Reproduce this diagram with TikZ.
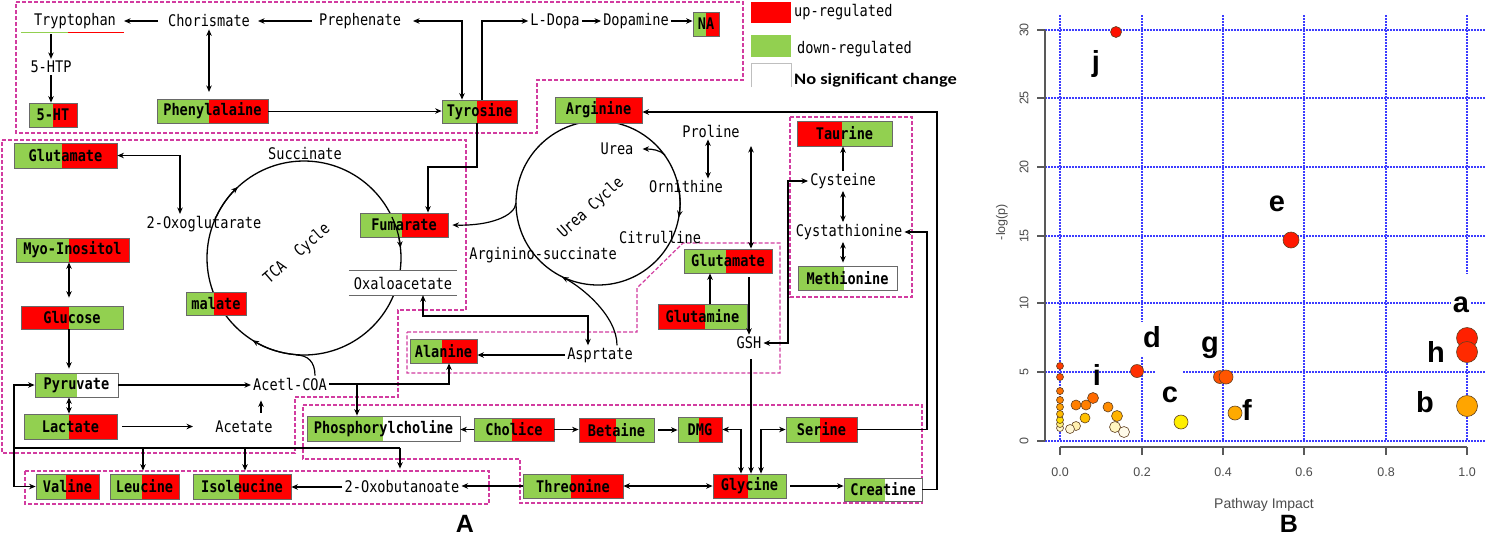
\documentclass[tikz,border=0pt]{standalone}
\usepackage{fontspec}
\usetikzlibrary{arrows.meta,calc}
\newfontfamily\monof{DejaVu Sans Mono}[FakeStretch=0.85]
\newfontfamily\sansf{Liberation Sans}
\newfontfamily\calf{Carlito}[FakeStretch=1.15]
\newcommand\mymono{\monof\fontsize{16}{18}\selectfont}
\newcommand\mymonob{\monof\bfseries\fontsize{16}{18}\selectfont}
\definecolor{gr}{RGB}{146,208,80}
\definecolor{rd}{RGB}{255,0,0}
\definecolor{mag}{RGB}{210,60,160}
\definecolor{bgray}{RGB}{105,105,105}
\definecolor{gridblue}{RGB}{60,60,255}
\tikzset{
  arr/.style={-{Stealth[length=6.5pt,width=5.5pt]}, line width=1.2pt},
  dbl/.style={{Stealth[length=6.5pt,width=5.5pt]}-{Stealth[length=6.5pt,width=5.5pt]}, line width=1.2pt},
  ln/.style={line width=1.2pt},
  tx/.style={inner sep=2pt, font=\mymono},
  boxlbl/.style={draw=bgray, line width=0.8pt, inner sep=0pt, font=\mymonob},
  region/.style={draw=mag, line width=1.2pt, dash pattern=on 4pt off 2pt},
  cyc/.style={line width=1.3pt},
  gridln/.style={gridblue, line width=1.1pt, dash pattern=on 1.5pt off 1.5pt},
  axisln/.style={draw=gray!70!black, line width=1.2pt},
  ticklbl/.style={font=\sansf\fontsize{12.5}{14}\selectfont, text=gray!60!black, inner sep=0pt},
  pt/.style={circle, draw=brown!50!black, line width=0.6pt, inner sep=0pt},
  ltr/.style={font=\sansf\bfseries\fontsize{29}{30}\selectfont, inner sep=1pt},
}
% name, x1, y1, x2, y2, split x, left colour, right colour, text
\newcommand\metab[9]{%
  \fill[#7] (#2,#3) rectangle (#6,#5);
  \fill[#8] (#6,#3) rectangle (#4,#5);
  \node[boxlbl, minimum width={(#4-#2)*1pt}, minimum height={(#5-#3)*1pt}] (#1) at ({(#2+#4)/2},{(#3+#5)/2}) {#9};}
\newcommand\ppt[5]{\definecolor{tmpc}{HTML}{#5}\node[pt, minimum size=#4pt, fill=tmpc] (#1) at (#2,#3) {};}
\begin{document}
\begin{tikzpicture}[x=1pt,y=-1pt]
\useasboundingbox (0,0) rectangle (1485,542);
\fill[white] (0,0) rectangle (1485,542);

% ---------- dashed regions ----------
\draw[region] (16,2) -- (743,2) -- (743,80) -- (537,80) -- (537,133) -- (16,133) -- cycle;
\draw[region] (2,140) -- (466,140) -- (466,310) -- (398,310) -- (398,397) -- (295,397) -- (295,453) -- (2,453) -- cycle;
\draw[region] (407,332) -- (637,332) -- (637,288) -- (683,243) -- (780,243) -- (780,373) -- (407,373) -- cycle;
\draw[region] (790,117) rectangle (912,297);
\draw[region] (25,471) rectangle (489,504);
\draw[region] (303,405) -- (922,405) -- (922,503) -- (520,503) -- (520,459) -- (303,459) -- cycle;

% ---------- cycles ----------
\coordinate (tc) at (304,258);
\draw[cyc] (tc) circle[radius=97pt];
\coordinate (uc) at (598,203);
\draw[cyc] (uc) circle[radius=82pt];

% ---------- boxes ----------
\metab{ht5}{29}{103}{77}{127}{53}{gr}{rd}{5-HT}
\metab{phe}{157}{99}{268}{123}{209}{gr}{rd}{Phenylalaine}
\metab{tyr}{442}{100}{517}{123}{477}{gr}{rd}{Tyrosine}
\metab{na}{693}{12}{719}{36}{706}{gr}{rd}{NA}
\metab{arg}{555}{97}{642}{123}{596}{gr}{rd}{Arginine}
\metab{glu1}{14}{143}{117}{168}{62}{gr}{rd}{Glutamate}
\metab{myo}{16}{238}{129}{262}{69}{gr}{rd}{Myo-Inositol}
\metab{glc}{21}{306}{123}{329}{69}{rd}{gr}{Glucose}
\metab{fum}{360}{213}{448}{237}{402}{gr}{rd}{Fumarate}
\metab{mal}{186}{292}{246}{315}{214}{gr}{rd}{malate}
\metab{tau}{797}{121}{892}{146}{842}{rd}{gr}{Taurine}
\metab{met}{798}{266}{897}{290}{844}{gr}{white}{Methionine}
\metab{glu2}{684}{249}{772}{273}{726}{gr}{rd}{Glutamate}
\metab{gln}{658}{304}{747}{329}{705}{rd}{gr}{Glutamine}
\metab{ala}{410}{339}{477}{363}{442}{gr}{rd}{Alanine}
\metab{pyr}{35}{373}{118}{397}{77}{gr}{white}{Pyruvate}
\metab{lac}{24}{414}{117}{439}{69}{gr}{rd}{Lactate}
\metab{val}{36}{474}{99}{499}{66}{gr}{rd}{Valine}
\metab{leu}{110}{474}{179}{499}{142}{gr}{rd}{Leucine}
\metab{ile}{193}{474}{291}{499}{239}{gr}{rd}{Isoleucine}
\metab{pcho}{307}{416}{460}{441}{383}{gr}{white}{Phosphorylcholine}
\metab{cho}{474}{418}{554}{441}{512}{gr}{rd}{Cholice}
\metab{bet}{579}{418}{654}{442}{616}{rd}{gr}{Betaine}
\metab{dmg}{678}{417}{722}{442}{699}{gr}{rd}{DMG}
\metab{ser}{786}{417}{857}{442}{820}{gr}{rd}{Serine}
\metab{thr}{523}{474}{623}{498}{571}{gr}{rd}{Threonine}
\metab{gly}{713}{474}{786}{498}{748}{rd}{gr}{Glycine}
\metab{cre}{844}{478}{922}{501}{885}{gr}{white}{Creatine}
\node[tx, fill=white, minimum width=108pt, minimum height=24pt] (oxa) at (403,283) {Oxaloacetate};
\draw[bgray, line width=0.8pt] (oxa.north west) -- (oxa.north east) (oxa.south west) -- (oxa.south east);

% ---------- plain labels ----------
\node[tx] (try) at (75,21) {Tryptophan};
\draw[gr, line width=1pt] (21,32) -- (68,32);
\draw[rd, line width=1pt] (68,32) -- (124,32);
\node[tx] (cho1) at (209,21) {Chorismate};
\node[tx] (pre) at (360,21) {Prephenate};
\node[tx] (ldopa) at (555,21) {L-Dopa};
\node[tx] (dopa) at (636,21) {Dopamine};
\node[tx] (htp) at (51,67) {5-HTP};
\node[tx] (succ) at (305,154) {Succinate};
\node[tx] (oxog) at (204,224) {2-Oxoglutarate};
\node[tx, rotate=41] (tca) at (297,254) {TCA\ \ Cycle};
\node[tx] (urea) at (617,149) {Urea};
\node[tx] (pro) at (711,131) {Proline};
\node[tx] (orn) at (686,187) {Ornithine};
\node[tx] (cit) at (660,237) {Citrulline};
\node[tx] (args) at (543,255) {Arginino-succinate};
\node[tx, rotate=42] (ucyc) at (591,208) {Urea Cycle};
\node[tx] (asp) at (600,355) {Asprtate};
\node[tx] (gsh) at (749,343) {GSH};
\node[tx] (cys) at (843,181) {Cysteine};
\node[tx] (cysta) at (849,232) {Cystathionine};
\node[tx] (acoa) at (290,384) {Acetl-COA};
\node[tx] (acet) at (244,427) {Acetate};
\node[tx] (oxb) at (402,487) {2-Oxobutanoate};

% ---------- legend ----------
\fill[rd] (751,2) rectangle (791,23);
\node[tx, anchor=west] (lup) at (792,12) {up-regulated};
\fill[gr] (751,35) rectangle (791,57);
\node[tx, anchor=west] (ldown) at (795,49) {down-regulated};
\draw[gray!50, line width=0.8pt] (751,87) -- (751,63) -- (791,63) -- (791,87);
\node[anchor=west, inner sep=0pt, font=\calf\bfseries\fontsize{16}{18}\selectfont] (lns) at (794,80) {No significant change};

% ---------- connectors ----------
\draw[arr] (158,0 |- cho1) -- (124,0 |- cho1);
\draw[arr] (htp |- 0,34) -- (htp.north);
\draw[arr] (htp.south) -- (htp |- ht5.north);
\draw[dbl] (cho1.south) -- (cho1 |- 0,92);
\draw[arr] (312,0 |- pre) -- (258,0 |- pre);
\draw[dbl] (413,0 |- pre) -| (tyr.north -| 462,0);
\draw[arr, line width=0.8pt] (phe.east) -- (tyr.west |- phe.east);
\draw[arr] (tyr.north -| 482,0) |- (ldopa.west);
\draw[arr] (ldopa.east) -- (dopa.west);
\draw[arr] (dopa.east) -- (na.west |- dopa);
\draw[arr] (tyr.south -| 477,0) |- (428,167) -- (fum.north -| 428,0);
\draw[dbl] (glu1.east) -| (oxog.north -| 180,0);
\draw[dbl] (myo.south -| 69,0) -- ([yshift=8pt]glc.north -| 69,0);
\draw[arr] (glc.south -| 69,0) -- ([yshift=4pt]pyr.north -| 69,0);
\draw[dbl] (pyr.south -| 69,0) -- (lac.north -| 69,0);
\draw[arr] (pyr.east) -- (acoa.west |- pyr.east);
\draw[arr] (122,0 |- lac) -- (193,0 |- lac);
\draw[arr] ([yshift=6pt]acet.north -| 261,0) -- ([yshift=-8pt]acoa.south -| 261,0);
\draw[arr] (acoa.east) -| (ala.south -| 449,0);
\draw[arr] (357,0 |- acoa) -- (pcho.north -| 357,0);
\draw[dbl] (pyr.west) -- (14,0 |- pyr) |- (val.west);
\draw[ln] (14,448) -- (400,448);
\draw[arr] (143,448) -- ([yshift=3pt]leu.north -| 143,0);
\draw[arr] (245,448) -- ([yshift=3pt]ile.north -| 245,0);
\draw[arr] (400,448) -- ([yshift=10pt]oxb.north -| 400,0);
\draw[arr] (oxb.west) -- (ile.east |- oxb);
\draw[arr] (thr.west) -- (oxb.east |- thr);
\draw[dbl] (thr.east) -- (gly.west);
\draw[arr] ([xshift=4pt]gly.east) -- (cre.west |- gly);
\draw[arr] (cre.east) -| (937,112) -- (arg.east |- 0,112);
\draw[arr] (ser.east) -| (927,232) -- (cysta.east |- 0,232);
\draw[arr] (cho.west) -- (pcho.east |- cho);
\draw[arr] (cho.east) -- (bet.west |- cho);
\draw[arr] ([xshift=4pt]bet.east) -- (dmg.west |- bet);
\draw[dbl] (dmg.east) -| (gly.north -| 741,0);
\draw[arr] ([yshift=-8pt]gsh.south -| 751,0) -- (gly.north -| 751,0);
\draw[dbl] (gly.north -| 761,0) |- (ser.west);
\draw[dbl] (gsh.east) -| (788,0 |- cys) -- (cys.west);
\draw[arr] (cys.north -| 843,0) -- (tau.south -| 843,0);
\draw[dbl] (cys.south -| 843,0) -- (cysta.north -| 843,0);
\draw[dbl] (cysta.south -| 843,0) -- ([yshift=3pt]met.north -| 843,0);
\draw[arr] (gln.north -| 710,0) -- (glu2.south -| 710,0);
\draw[arr] ([yshift=-4pt]glu2.south -| 749,0) -- (gsh.north);
\draw[dbl] (pro.south -| 708,0) -- (orn.north -| 708,0);
\coordinate (pg) at (751,146);
\draw[dbl] (pg) -- (glu2.north -| pg);
\draw[dbl] (oxa.south -| 423,0) |- (588,316) -- (588,0 |- asp.north);
\draw[arr] (asp.west) -- (ala.east |- asp);
% curves
\coordinate (asj) at (562,277);
\draw[arr] (617,0 |- asp.north) .. controls (617,315) and (580,286) .. (asj);
\coordinate (ufj) at (516,203);
\draw[arr] (ufj) .. controls (515,216) and (490,226) .. ([xshift=4pt]fum.east);
\coordinate (ubj) at (665,155);
\draw[arr] (ubj) .. controls (660,150) and (652,149) .. ([xshift=7pt]urea.east);
\coordinate (acj) at (296,355);
\draw[ln] (315,0 |- acoa.north) .. controls (315,362) and (308,355) .. (acj);
% arrowheads on cycles
\draw[arr] ($(tc)+(155:97pt)$) arc[start angle=155, end angle=133, radius=97pt];
\draw[arr] ($(tc)+(25:97pt)$) arc[start angle=25, end angle=6, radius=97pt];
\draw[arr] ($(tc)+(-95:97pt)$) arc[start angle=-95, end angle=-122, radius=97pt];
\draw[arr] ($(uc)+(15:82pt)$) arc[start angle=15, end angle=-10, radius=82pt];

\node[font=\sansf\bfseries\fontsize{25}{27}\selectfont, inner sep=0pt] (labA) at (465,524) {A};

% ---------- chart B ----------
\foreach \yy in {441,236,167,98,30} {\draw[gridln] (1045,\yy) -- (1485,\yy);}
\draw[gridln] (1045,303) -- (1451,303) (1471,303) -- (1485,303);
\draw[gridln] (1045,372) -- (1155,372) (1183,372) -- (1485,372);
\foreach \xx in {1060,1223,1304,1386} {\draw[gridln] (\xx,15) -- (\xx,441);}
\draw[gridln] (1142,15) -- (1142,322) (1142,357) -- (1142,441);
\draw[gridln] (1467,15) -- (1467,274) (1467,330) -- (1467,441);
\draw[axisln] (1045,30) -- (1045,441);
\draw[axisln] (1060,447) -- (1467,447);
\foreach \yy/\lab [count=\i] in {441/0,372/5,303/10,236/15,167/20,98/25,30/30} {
  \draw[axisln] (1037,\yy) -- (1045,\yy);
  \node[ticklbl, rotate=90] (yt\i) at (1024,\yy) {\lab};}
\foreach \xx/\lab [count=\i] in {1060/0.0,1142/0.2,1223/0.4,1304/0.6,1386/0.8,1467/1.0} {
  \draw[axisln] (\xx,447) -- (\xx,455);
  \node[ticklbl] (xt\i) at (\xx,472) {\lab};}
\node[font=\sansf\fontsize{14}{16}\selectfont, text=gray!60!black, inner sep=0pt] (xlab) at (1264,505) {Pathway Impact};
\node[font=\sansf\fontsize{12.5}{14}\selectfont, text=gray!60!black, inner sep=0pt, rotate=90] (ylab) at (1002,222) {-log(p)};
\node[font=\sansf\bfseries\fontsize{25}{27}\selectfont, inner sep=0pt] (labB) at (1289,524) {B};

% points
\ppt{k9}{1060}{428}{7}{FFF8D0}
\ppt{k8}{1060}{424}{7}{FFF080}
\ppt{k7}{1060}{420}{7}{FFDD00}
\ppt{k6}{1060}{414}{7}{FFBB00}
\ppt{k5}{1060}{407}{7}{FFA000}
\ppt{k4}{1060}{400}{7}{FF8500}
\ppt{k3}{1060}{391}{7}{FF7000}
\ppt{k2}{1060}{377}{7}{FF5000}
\ppt{k1}{1060}{366}{7}{FF3A00}
\ppt{s1}{1093}{398}{11}{FF6A00}
\ppt{s2}{1076}{405}{10}{FF7F00}
\ppt{s3}{1086}{405}{10}{FF7F00}
\ppt{s4}{1108}{407}{10}{FF8C00}
\ppt{s5}{1117}{416}{11}{FFB300}
\ppt{s6}{1085}{418}{10}{FFC000}
\ppt{s7}{1076}{426}{9}{FFF0B0}
\ppt{s8}{1070}{429}{9}{FFF7D5}
\ppt{s9}{1115}{427}{11}{FFF5C0}
\ppt{s10}{1124}{432}{11}{FFFBEA}
\ppt{pj}{1116}{32}{11}{FF1100}
\ppt{pe}{1291}{240}{16}{FF1800}
\ppt{pb}{1467}{406}{21}{FFA500}
\ppt{pa}{1467}{338}{21}{FF2000}
\ppt{ph}{1467}{352}{21}{FF2A00}
\ppt{pd}{1137}{371}{13}{FF3000}
\ppt{pg1}{1220}{377}{13}{FF5000}
\ppt{pg2}{1226}{377}{14}{FF5500}
\ppt{pf}{1235}{413}{14}{FFAA00}
\ppt{pc}{1181}{422}{14}{FFEE00}
% letters
\node[ltr] (lj) at (1096,64) {j};
\node[ltr] (le) at (1277,204) {e};
\node[ltr] (la) at (1461,305) {a};
\node[ltr] (lh) at (1436,352) {h};
\node[ltr] (lb) at (1425,402) {b};
\node[ltr] (ld) at (1152,337) {d};
\node[ltr] (lg) at (1210,348) {g};
\node[ltr] (lf) at (1247,410) {f};
\node[ltr] (lc) at (1170,395) {c};
\node[ltr] (li) at (1097,375) {i};
\end{tikzpicture}
\end{document}
